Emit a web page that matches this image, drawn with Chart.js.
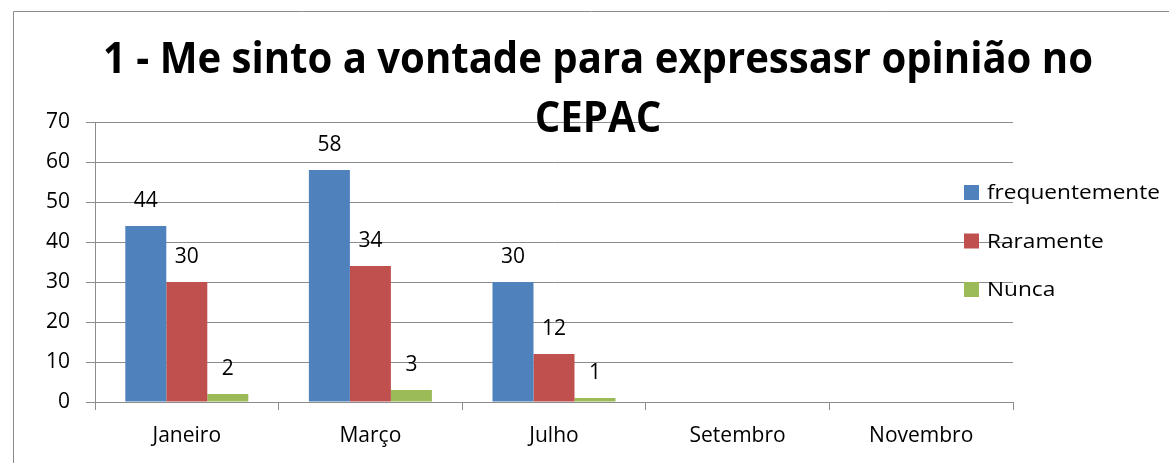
<!DOCTYPE html>
<html>
<head>
<meta charset="utf-8">
<script src="https://cdn.jsdelivr.net/npm/chart.js@4"></script>
<style>
  body { margin: 0; background: #fff; }
  canvas { display: block; }
</style>
</head>
<body>
<canvas id="chart" width="1169" height="463"></canvas>
<script>
// chart data
const categories = ['Janeiro', 'Março', 'Julho', 'Setembro', 'Novembro'];
const seriesNames = ['frequentemente', 'Raramente', 'Nunca'];
const frequentemente = [44, 58, 30, null, null];
const raramente = [30, 34, 12, null, null];
const nunca = [2, 3, 1, null, null];
const titleLines = ['1 - Me sinto a vontade para expressasr opinião no', 'CEPAC'];

const colors = ['#4F81BD', '#C0504D', '#9BBB59'];
const gridColor = '#8c8c8c';
const font = '"Open Sans", "DejaVu Sans", sans-serif';

// frame, title and legend drawn by hand so they can overlap the plot like the original
const decorations = {
    id: 'decorations',
    beforeDraw(chart) {
        const ctx = chart.ctx;
        ctx.save();
        ctx.strokeStyle = '#8a8a8a';
        ctx.lineWidth = 1;
        ctx.beginPath();
        ctx.moveTo(13.5, chart.height);
        ctx.lineTo(13.5, 11.5);
        ctx.lineTo(chart.width, 11.5);
        ctx.stroke();
        ctx.restore();
    },
    afterDatasetsDraw(chart) {
        const ctx = chart.ctx;
        ctx.save();
        ctx.fillStyle = '#000';
        ctx.font = '21px ' + font;
        ctx.textAlign = 'center';
        ctx.textBaseline = 'alphabetic';
        chart.data.datasets.forEach((ds, i) => {
            chart.getDatasetMeta(i).data.forEach((bar, j) => {
                const v = ds.data[j];
                if (v === null || v === undefined) return;
                ctx.fillText(String(v), bar.x, bar.y - 19);
            });
        });
        ctx.restore();
    },
    afterDraw(chart) {
        const ctx = chart.ctx;
        ctx.save();
        // title
        ctx.fillStyle = '#000';
        ctx.font = 'bold 43px ' + font;
        ctx.textAlign = 'center';
        const sx = 990 / ctx.measureText(titleLines[0]).width;
        const baselines = [73, 132];
        titleLines.forEach((line, i) => {
            ctx.save();
            ctx.translate(598, baselines[i]);
            ctx.scale(sx, 1);
            ctx.fillText(line, 0, 0);
            ctx.restore();
        });
        // legend
        ctx.font = '20px ' + font;
        ctx.textAlign = 'left';
        ctx.textBaseline = 'middle';
        const lx = 173 / ctx.measureText(seriesNames[0]).width;
        chart.data.datasets.forEach((ds, i) => {
            const cy = 192.5 + i * 48.5;
            ctx.fillStyle = ds.backgroundColor;
            ctx.fillRect(964, cy - 7.5, 15, 15);
            ctx.fillStyle = '#000';
            ctx.save();
            ctx.translate(987, cy + 1);
            ctx.scale(lx, 1);
            ctx.fillText(ds.label, 0, 0);
            ctx.restore();
        });
        ctx.restore();
    }
};

new Chart(document.getElementById('chart'), {
    type: 'bar',
    data: {
        labels: categories,
        datasets: [
            { label: seriesNames[0], data: frequentemente, backgroundColor: colors[0] },
            { label: seriesNames[1], data: raramente, backgroundColor: colors[1] },
            { label: seriesNames[2], data: nunca, backgroundColor: colors[2] },
        ],
    },
    options: {
        responsive: false,
        animation: false,
        categoryPercentage: 0.67,
        barPercentage: 1.0,
        layout: { padding: { left: 0, right: 156, top: 122, bottom: 0 } },
        plugins: {
            legend: { display: false },
            title: { display: false },
            tooltip: { enabled: false },
        },
        scales: {
            x: {
                offset: true,
                grid: { display: true, drawOnChartArea: false, color: gridColor, tickLength: 8, offset: true },
                border: { color: gridColor },
                ticks: { color: '#000', font: { family: font, size: 21 }, padding: 13, maxRotation: 0 },
                afterFit(scale) { scale.height = 61; },
            },
            y: {
                min: 0,
                max: 70,
                ticks: { stepSize: 10, color: '#000', font: { family: font, size: 21 }, padding: 16 },
                grid: { color: gridColor, tickLength: 9 },
                border: { color: gridColor },
                afterFit(scale) { scale.width = 95; },
            },
        },
    },
    plugins: [decorations],
});
</script>
</body>
</html>
